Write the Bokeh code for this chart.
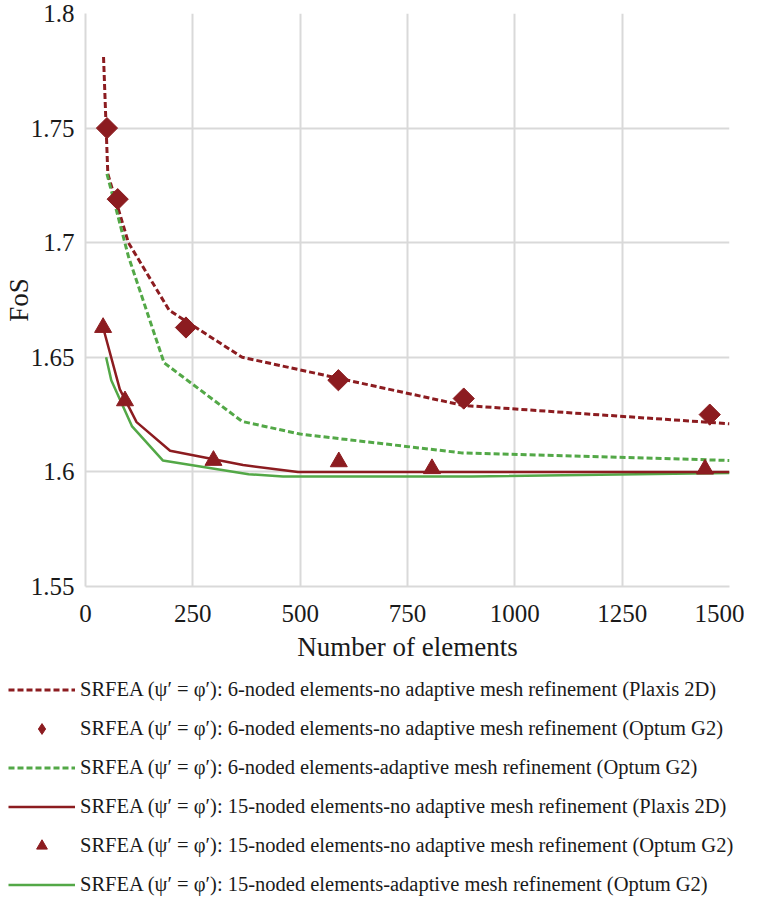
from bokeh.plotting import figure
from bokeh.models import Legend, LegendItem, FixedTicker, Range1d
from bokeh.embed import file_html
from bokeh.resources import INLINE
import math

# ---- data ----
plaxis6_x = [42, 52, 100, 195, 365, 880, 1500]
plaxis6_y = [1.781, 1.73, 1.70, 1.6705, 1.650, 1.629, 1.621]

optum6_x = [50, 75, 234, 589, 881, 1454]
optum6_y = [1.75, 1.719, 1.663, 1.640, 1.632, 1.625]

adaptive6_x = [50, 100, 183, 365, 500, 876, 1500]
adaptive6_y = [1.73, 1.694, 1.6476, 1.622, 1.6165, 1.6083, 1.605]

plaxis15_x = [41, 80, 119, 197, 367, 495, 1500]
plaxis15_y = [1.663, 1.636, 1.6217, 1.6092, 1.603, 1.600, 1.600]

optum15_x = [41, 92, 298, 590, 807, 1443]
optum15_y = [1.663, 1.631, 1.605, 1.6044, 1.6014, 1.6012]

adaptive15_x = [48, 60, 108, 180, 380, 460, 900, 1500]
adaptive15_y = [1.650, 1.640, 1.620, 1.605, 1.599, 1.598, 1.598, 1.5995]

x_ticks = [0, 250, 500, 750, 1000, 1250, 1500]
y_ticks = [1.55, 1.6, 1.65, 1.7, 1.75, 1.8]
y_tick_labels = ["1.55", "1.6", "1.65", "1.7", "1.75", "1.8"]

labels = [
    "SRFEA (\u03c8\u2032 = \u03c6\u2032): 6-noded elements-no adaptive mesh refinement (Plaxis 2D)",
    "SRFEA (\u03c8\u2032 = \u03c6\u2032): 6-noded elements-no adaptive mesh refinement (Optum G2)",
    "SRFEA (\u03c8\u2032 = \u03c6\u2032): 6-noded elements-adaptive mesh refinement (Optum G2)",
    "SRFEA (\u03c8\u2032 = \u03c6\u2032): 15-noded elements-no adaptive mesh refinement (Plaxis 2D)",
    "SRFEA (\u03c8\u2032 = \u03c6\u2032): 15-noded elements-no adaptive mesh refinement (Optum G2)",
    "SRFEA (\u03c8\u2032 = \u03c6\u2032): 15-noded elements-adaptive mesh refinement (Optum G2)",
]

RED = "#8C1C20"
GREEN = "#53A847"
GRID = "#D9D9D9"
FONT = "Liberation Serif"
TXT = "#1a1a1a"

MAIN_H = 676
LEG_H = 222

p = figure(width=744, height=MAIN_H, output_backend="svg", toolbar_location=None,
           x_range=Range1d(0, 1500), y_range=Range1d(1.55, 1.8),
           min_border_left=76, min_border_right=15, min_border_top=13,
           min_border_bottom=MAIN_H - 13 - 573)
p.outline_line_color = None

p.xaxis.ticker = FixedTicker(ticks=x_ticks)
p.yaxis.ticker = FixedTicker(ticks=y_ticks)
p.yaxis.major_label_overrides = {t: l for t, l in zip(y_ticks, y_tick_labels)}
for ax in (p.xaxis, p.yaxis):
    ax.major_tick_in = 0
    ax.major_tick_out = 0
    ax.minor_tick_in = 0
    ax.minor_tick_out = 0
    ax.axis_line_color = GRID
    ax.axis_line_width = 2
    ax.major_label_text_font = FONT
    ax.major_label_text_font_size = "25px"
    ax.major_label_text_color = TXT
    ax.axis_label_text_font = FONT
    ax.axis_label_text_font_size = "27px"
    ax.axis_label_text_font_style = "normal"
    ax.axis_label_text_color = TXT
p.xaxis.axis_label = "Number of elements"
p.yaxis.axis_label = "FoS"
p.xaxis.major_label_standoff = 18
p.xaxis.axis_label_standoff = 7
p.yaxis.major_label_standoff = 11
p.yaxis.axis_label_standoff = -6

p.xgrid.grid_line_color = GRID
p.ygrid.grid_line_color = GRID
p.xgrid.grid_line_width = 2
p.ygrid.grid_line_width = 2


def draw_series(fig, legend_mode=False):
    r1 = fig.line(plaxis6_x, plaxis6_y, line_color=RED, line_width=3, line_dash="6 3")
    r3 = fig.line(adaptive6_x, adaptive6_y, line_color=GREEN, line_width=3, line_dash="6 3")
    r6 = fig.line(adaptive15_x, adaptive15_y, line_color=GREEN, line_width=2.5)
    r4 = fig.line(plaxis15_x, plaxis15_y, line_color=RED, line_width=2.5)
    if legend_mode:
        r2 = fig.scatter(optum6_x, optum6_y, marker="diamond", size=15,
                         fill_color=RED, line_color=RED)
    else:
        r2 = fig.scatter(optum6_x, optum6_y, marker="square", angle=math.pi / 4, size=15,
                         fill_color=RED, line_color=RED)
    r5 = fig.scatter(optum15_x, optum15_y, marker="triangle", size=17,
                     fill_color=RED, line_color=RED)
    return [r1, r2, r3, r4, r5, r6]


draw_series(p)

# legend panel: a separate root figure; the same series are drawn with ranges that
# keep them out of view, so only the legend samples show
q = figure(width=744, height=LEG_H, output_backend="svg", toolbar_location=None,
           x_range=Range1d(0, 1), y_range=Range1d(0, 1),
           min_border_left=8, min_border_right=0, min_border_top=0, min_border_bottom=0)
q.axis.visible = False
q.grid.visible = False
q.outline_line_color = None
rs = draw_series(q, legend_mode=True)

legend = Legend(items=[LegendItem(label=l, renderers=[r]) for l, r in zip(labels, rs)],
                location="top_left")
legend.border_line_color = None
legend.background_fill_alpha = 0
legend.padding = 0
legend.margin = 0
legend.spacing = 12
legend.glyph_width = 67
legend.glyph_height = 27
legend.label_height = 27
legend.label_standoff = 5
legend.label_text_font = FONT
legend.label_text_font_size = "20.5px"
legend.label_text_color = TXT
q.add_layout(legend, "center")

open("out.html", "w").write(file_html([p, q], INLINE))
